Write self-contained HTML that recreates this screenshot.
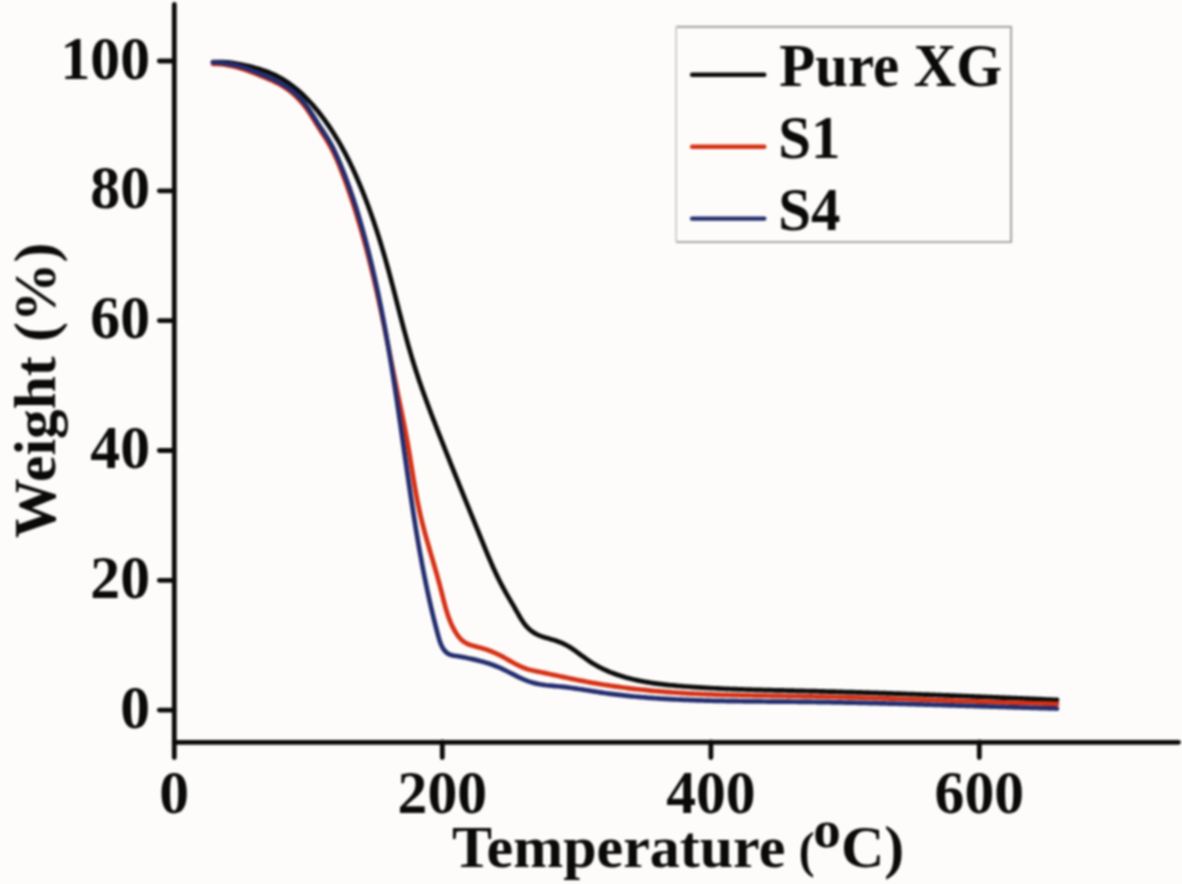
<!DOCTYPE html>
<html><head><meta charset="utf-8"><style>
html,body{margin:0;padding:0;background:#fdfcfa;width:1182px;height:884px;overflow:hidden}
svg{display:block;filter:blur(0.8px)}
text{font-family:"Liberation Serif",serif;font-weight:bold;fill:#0a0a0a}
</style></head><body>
<svg width="1182" height="884" viewBox="0 0 1182 884">
<rect width="1182" height="884" fill="#fdfcfa"/>
<!-- axes -->
<g stroke="#0a0a0a" stroke-width="4.8" stroke-linecap="round" fill="none">
<path d="M174.3 4.5 V757.6"/>
<path d="M174.3 742.3 H1178.5"/>
<path d="M159.3 61 H174 M159.3 190.8 H174 M159.3 320.6 H174 M159.3 450.5 H174 M159.3 580.3 H174 M159.3 710.1 H174"/>
<path d="M442.3 742 V757.6 M710.9 742 V757.6 M979.3 742 V757.6"/>
</g>
<!-- y tick labels -->
<g font-size="61.5" text-anchor="end">
<text transform="translate(150 78.5) scale(0.97 1)">100</text>
<text transform="translate(150 208.3) scale(0.97 1)">80</text>
<text transform="translate(150 338.1) scale(0.97 1)">60</text>
<text transform="translate(150 468.0) scale(0.97 1)">40</text>
<text transform="translate(150 597.8) scale(0.97 1)">20</text>
<text transform="translate(150 727.6) scale(0.97 1)">0</text>
</g>
<g font-size="61.5" text-anchor="middle">
<text transform="translate(174.2 813.3) scale(0.97 1)">0</text>
<text transform="translate(442.3 813.3) scale(0.97 1)">200</text>
<text transform="translate(710.9 813.3) scale(0.97 1)">400</text>
<text transform="translate(979.3 813.3) scale(0.97 1)">600</text>
</g>
<text transform="translate(452 867) scale(1.0001 1)" font-size="60">Temperature</text>
<text transform="translate(798.8 867) scale(0.95 1)" font-size="50">(</text>
<text transform="translate(813.2 847.3) scale(1.06 1)" font-size="52">o</text>
<text transform="translate(841 867) scale(1.0001 1)" font-size="60">C)</text>
<text transform="translate(55.4 538) rotate(-90) scale(0.99 1)" font-size="60">Weight (%)</text>
<!-- legend -->
<path d="M676.1 26.8 H1011.1 V242 H676.1" fill="none" stroke="#a9a9a7" stroke-width="2.2"/>
<path d="M676.1 26.8 V242" fill="none" stroke="#cfcfcd" stroke-width="2"/>
<g stroke-width="4.4" stroke-linecap="round">
<path d="M692.1 74.7 H764.3" stroke="#0a0a0a"/>
<path d="M692.1 146.7 H764.3" stroke="#d63015"/>
<path d="M692.1 218.6 H764.3" stroke="#232d6e"/>
</g>
<g font-size="62">
<text transform="translate(779.2 86.0) scale(0.95 1)">Pure XG</text>
<text transform="translate(778.3 158.4) scale(0.95 1)">S1</text>
<text transform="translate(778.3 229.6) scale(0.95 1)">S4</text>
</g>
<!-- curves -->
<g fill="none" stroke-width="4.7" stroke-linecap="round" stroke-linejoin="round">
<path id="black" stroke="#0a0a0a" d="M212.99 62.23 L215.09 62.11 L217.17 62.05 L219.23 62.04 L221.28 62.07 L223.31 62.16 L225.33 62.29 L227.35 62.45 L229.35 62.66 L231.35 62.91 L233.34 63.19 L235.33 63.50 L237.31 63.84 L239.30 64.20 L241.29 64.60 L243.28 65.01 L245.27 65.45 L247.27 65.90 L249.27 66.38 L251.28 66.87 L253.28 67.39 L255.28 67.94 L257.28 68.50 L259.26 69.10 L261.24 69.72 L263.21 70.38 L265.17 71.06 L267.11 71.78 L269.03 72.53 L270.94 73.32 L272.82 74.14 L274.68 75.00 L276.52 75.90 L278.33 76.83 L280.12 77.80 L281.89 78.81 L283.63 79.86 L285.35 80.93 L287.05 82.04 L288.73 83.18 L290.38 84.36 L292.01 85.56 L293.62 86.79 L295.21 88.05 L296.78 89.34 L298.33 90.65 L299.85 91.99 L301.36 93.36 L302.85 94.75 L304.32 96.16 L305.77 97.59 L307.20 99.05 L308.61 100.52 L310.00 102.01 L311.38 103.53 L312.74 105.05 L314.08 106.60 L315.40 108.16 L316.71 109.74 L318.00 111.33 L319.28 112.93 L320.54 114.54 L321.78 116.17 L323.01 117.80 L324.22 119.45 L325.42 121.10 L326.61 122.76 L327.77 124.44 L328.93 126.12 L330.07 127.82 L331.20 129.52 L332.31 131.23 L333.41 132.95 L334.50 134.68 L335.57 136.41 L336.63 138.16 L337.68 139.91 L338.71 141.67 L339.73 143.44 L340.74 145.21 L341.74 146.99 L342.72 148.78 L343.70 150.58 L344.66 152.38 L345.61 154.19 L346.55 156.00 L347.48 157.82 L348.40 159.65 L349.31 161.48 L350.21 163.32 L351.09 165.16 L351.97 167.01 L352.84 168.86 L353.70 170.72 L354.55 172.58 L355.39 174.45 L356.22 176.32 L357.04 178.19 L357.85 180.07 L358.66 181.95 L359.46 183.84 L360.24 185.73 L361.03 187.62 L361.80 189.51 L362.56 191.41 L363.32 193.31 L364.07 195.21 L364.82 197.11 L365.55 199.02 L366.28 200.93 L367.01 202.84 L367.72 204.75 L368.43 206.67 L369.14 208.59 L369.83 210.51 L370.52 212.43 L371.21 214.36 L371.88 216.28 L372.55 218.21 L373.22 220.14 L373.88 222.08 L374.53 224.01 L375.18 225.95 L375.82 227.89 L376.45 229.83 L377.08 231.77 L377.71 233.71 L378.33 235.66 L378.94 237.61 L379.55 239.56 L380.16 241.51 L380.75 243.46 L381.35 245.41 L381.94 247.37 L382.52 249.33 L383.10 251.28 L383.67 253.24 L384.24 255.21 L384.81 257.17 L385.37 259.13 L385.93 261.10 L386.48 263.07 L387.03 265.03 L387.58 267.00 L388.12 268.97 L388.66 270.95 L389.19 272.92 L389.72 274.89 L390.25 276.87 L390.78 278.84 L391.30 280.82 L391.82 282.79 L392.34 284.77 L392.86 286.75 L393.37 288.73 L393.89 290.71 L394.40 292.69 L394.91 294.66 L395.42 296.64 L395.93 298.62 L396.44 300.60 L396.95 302.58 L397.46 304.56 L397.97 306.54 L398.47 308.52 L398.98 310.50 L399.50 312.48 L400.01 314.46 L400.52 316.44 L401.03 318.42 L401.55 320.40 L402.07 322.38 L402.59 324.35 L403.11 326.33 L403.63 328.31 L404.16 330.28 L404.69 332.25 L405.22 334.23 L405.76 336.20 L406.30 338.17 L406.84 340.14 L407.39 342.11 L407.94 344.07 L408.49 346.04 L409.05 348.01 L409.61 349.97 L410.18 351.93 L410.76 353.89 L411.34 355.85 L411.92 357.81 L412.51 359.76 L413.11 361.71 L413.71 363.67 L414.32 365.62 L414.93 367.56 L415.55 369.51 L416.18 371.45 L416.81 373.39 L417.45 375.33 L418.10 377.27 L418.75 379.21 L419.40 381.14 L420.06 383.08 L420.73 385.01 L421.40 386.94 L422.07 388.87 L422.75 390.80 L423.44 392.72 L424.12 394.65 L424.82 396.57 L425.51 398.49 L426.21 400.41 L426.92 402.33 L427.63 404.25 L428.34 406.16 L429.05 408.08 L429.77 409.99 L430.49 411.91 L431.21 413.82 L431.94 415.73 L432.67 417.64 L433.40 419.55 L434.14 421.46 L434.87 423.36 L435.61 425.27 L436.35 427.18 L437.09 429.08 L437.83 430.98 L438.58 432.89 L439.32 434.79 L440.07 436.69 L440.82 438.60 L441.57 440.50 L442.32 442.40 L443.07 444.30 L443.82 446.20 L444.57 448.10 L445.32 450.00 L446.08 451.89 L446.83 453.79 L447.59 455.69 L448.34 457.59 L449.10 459.48 L449.85 461.38 L450.61 463.28 L451.37 465.17 L452.13 467.07 L452.89 468.96 L453.65 470.86 L454.41 472.75 L455.17 474.65 L455.93 476.54 L456.69 478.44 L457.45 480.33 L458.22 482.23 L458.98 484.12 L459.74 486.01 L460.51 487.91 L461.27 489.80 L462.04 491.69 L462.80 493.59 L463.57 495.48 L464.33 497.37 L465.10 499.27 L465.87 501.16 L466.64 503.05 L467.40 504.95 L468.17 506.84 L468.94 508.73 L469.71 510.63 L470.48 512.52 L471.25 514.42 L472.02 516.31 L472.79 518.20 L473.55 520.10 L474.33 521.99 L475.10 523.89 L475.87 525.78 L476.64 527.68 L477.41 529.57 L478.18 531.47 L478.95 533.37 L479.72 535.26 L480.49 537.16 L481.26 539.06 L482.04 540.95 L482.81 542.85 L483.58 544.75 L484.36 546.65 L485.13 548.54 L485.91 550.44 L486.69 552.33 L487.48 554.22 L488.27 556.11 L489.07 558.00 L489.87 559.88 L490.68 561.76 L491.49 563.63 L492.31 565.50 L493.14 567.37 L493.98 569.23 L494.83 571.08 L495.69 572.93 L496.55 574.78 L497.43 576.61 L498.32 578.44 L499.23 580.26 L500.14 582.08 L501.07 583.88 L502.01 585.68 L502.97 587.47 L503.94 589.25 L504.93 591.02 L505.92 592.79 L506.93 594.55 L507.95 596.31 L508.97 598.08 L510.00 599.84 L511.03 601.60 L512.07 603.38 L513.11 605.16 L514.14 606.94 L515.18 608.74 L516.21 610.55 L517.24 612.38 L518.27 614.21 L519.31 616.03 L520.38 617.83 L521.47 619.60 L522.59 621.34 L523.76 623.02 L524.98 624.65 L526.26 626.20 L527.61 627.67 L529.03 629.05 L530.54 630.33 L532.11 631.52 L533.76 632.61 L535.47 633.61 L537.24 634.53 L539.07 635.37 L540.94 636.12 L542.86 636.81 L544.82 637.43 L546.80 638.02 L548.79 638.59 L550.79 639.16 L552.78 639.73 L554.75 640.34 L556.71 640.99 L558.64 641.69 L560.54 642.43 L562.41 643.23 L564.25 644.08 L566.07 645.00 L567.84 645.97 L569.59 647.00 L571.30 648.08 L572.99 649.21 L574.67 650.38 L576.32 651.57 L577.97 652.79 L579.61 654.02 L581.24 655.26 L582.88 656.49 L584.52 657.72 L586.18 658.94 L587.85 660.13 L589.54 661.29 L591.25 662.42 L592.98 663.51 L594.74 664.56 L596.51 665.58 L598.31 666.57 L600.12 667.52 L601.95 668.44 L603.79 669.33 L605.66 670.18 L607.53 671.01 L609.42 671.80 L611.32 672.56 L613.23 673.30 L615.15 674.01 L617.08 674.69 L619.02 675.34 L620.96 675.97 L622.91 676.58 L624.87 677.16 L626.83 677.71 L628.79 678.24 L630.77 678.75 L632.74 679.24 L634.73 679.71 L636.71 680.15 L638.71 680.58 L640.70 680.99 L642.70 681.37 L644.71 681.75 L646.71 682.10 L648.72 682.44 L650.74 682.76 L652.76 683.07 L654.78 683.36 L656.80 683.64 L658.83 683.90 L660.86 684.16 L662.89 684.40 L664.92 684.63 L666.95 684.85 L668.99 685.06 L671.03 685.26 L673.06 685.45 L675.10 685.64 L677.14 685.82 L679.18 685.99 L681.22 686.16 L683.26 686.32 L685.31 686.48 L687.35 686.63 L689.39 686.78 L691.43 686.92 L693.47 687.07 L695.51 687.20 L697.55 687.33 L699.59 687.46 L701.63 687.59 L703.68 687.71 L705.72 687.83 L707.76 687.94 L709.80 688.05 L711.84 688.16 L713.88 688.26 L715.92 688.36 L717.96 688.46 L720.01 688.55 L722.05 688.64 L724.09 688.73 L726.13 688.82 L728.17 688.90 L730.21 688.98 L732.25 689.06 L734.30 689.14 L736.34 689.21 L738.38 689.28 L740.42 689.35 L742.46 689.42 L744.50 689.48 L746.55 689.55 L748.59 689.61 L750.63 689.67 L752.67 689.73 L754.71 689.78 L756.76 689.84 L758.80 689.89 L760.84 689.95 L762.88 690.00 L764.92 690.05 L766.97 690.10 L769.01 690.15 L771.05 690.20 L773.09 690.24 L775.13 690.29 L777.18 690.34 L779.22 690.38 L781.26 690.43 L783.30 690.47 L785.35 690.52 L787.39 690.56 L789.43 690.61 L791.47 690.65 L793.52 690.70 L795.56 690.74 L797.60 690.79 L799.64 690.83 L801.69 690.88 L803.73 690.93 L805.77 690.98 L807.81 691.02 L809.86 691.07 L811.90 691.12 L813.94 691.17 L815.98 691.22 L818.03 691.27 L820.07 691.33 L822.11 691.38 L824.16 691.43 L826.20 691.48 L828.24 691.54 L830.28 691.59 L832.33 691.64 L834.37 691.70 L836.41 691.75 L838.46 691.81 L840.50 691.87 L842.54 691.92 L844.59 691.98 L846.63 692.04 L848.67 692.10 L850.71 692.16 L852.76 692.21 L854.80 692.27 L856.84 692.33 L858.89 692.40 L860.93 692.46 L862.97 692.52 L865.02 692.58 L867.06 692.64 L869.10 692.70 L871.15 692.77 L873.19 692.83 L875.23 692.90 L877.28 692.96 L879.32 693.03 L881.36 693.09 L883.40 693.16 L885.45 693.22 L887.49 693.29 L889.53 693.36 L891.58 693.42 L893.62 693.49 L895.66 693.56 L897.71 693.63 L899.75 693.70 L901.79 693.77 L903.84 693.84 L905.88 693.91 L907.92 693.98 L909.97 694.05 L912.01 694.12 L914.05 694.19 L916.09 694.26 L918.14 694.33 L920.18 694.41 L922.22 694.48 L924.27 694.55 L926.31 694.63 L928.35 694.70 L930.40 694.78 L932.44 694.85 L934.48 694.93 L936.52 695.00 L938.57 695.08 L940.61 695.15 L942.65 695.23 L944.70 695.31 L946.74 695.38 L948.78 695.46 L950.82 695.54 L952.87 695.62 L954.91 695.69 L956.95 695.77 L959.00 695.85 L961.04 695.93 L963.08 696.01 L965.12 696.09 L967.17 696.17 L969.21 696.25 L971.25 696.33 L973.29 696.41 L975.34 696.49 L977.38 696.57 L979.42 696.65 L981.46 696.74 L983.50 696.82 L985.55 696.90 L987.59 696.98 L989.63 697.07 L991.67 697.15 L993.72 697.23 L995.76 697.32 L997.80 697.40 L999.84 697.48 L1001.88 697.57 L1003.93 697.65 L1005.97 697.74 L1008.01 697.82 L1010.05 697.91 L1012.09 697.99 L1014.13 698.08 L1016.18 698.17 L1018.22 698.25 L1020.26 698.34 L1022.30 698.42 L1024.34 698.51 L1026.38 698.60 L1028.43 698.68 L1030.47 698.77 L1032.51 698.86 L1034.55 698.95 L1036.59 699.03 L1038.63 699.12 L1040.67 699.21 L1042.71 699.30 L1044.75 699.39 L1046.80 699.48 L1048.84 699.56 L1050.88 699.65 L1052.92 699.74 L1054.96 699.83 L1057.00 699.92"/>
<path id="red" stroke="#d63015" d="M212.92 63.81 L215.09 63.83 L217.24 63.92 L219.38 64.06 L221.50 64.26 L223.62 64.51 L225.71 64.82 L227.80 65.17 L229.87 65.57 L231.93 66.01 L233.98 66.50 L236.02 67.02 L238.05 67.58 L240.07 68.17 L242.09 68.80 L244.09 69.46 L246.09 70.14 L248.09 70.84 L250.07 71.57 L252.06 72.32 L254.04 73.09 L256.01 73.86 L257.99 74.66 L259.96 75.46 L261.93 76.27 L263.90 77.08 L265.86 77.90 L267.83 78.74 L269.78 79.59 L271.72 80.46 L273.65 81.35 L275.56 82.28 L277.45 83.23 L279.32 84.23 L281.17 85.26 L282.98 86.34 L284.77 87.47 L286.53 88.65 L288.25 89.88 L289.94 91.16 L291.59 92.49 L293.21 93.87 L294.79 95.29 L296.33 96.75 L297.84 98.26 L299.30 99.80 L300.73 101.37 L302.12 102.98 L303.46 104.62 L304.77 106.30 L306.04 107.99 L307.27 109.72 L308.48 111.46 L309.66 113.22 L310.82 114.99 L311.96 116.78 L313.09 118.58 L314.21 120.38 L315.33 122.18 L316.45 123.99 L317.57 125.79 L318.71 127.59 L319.85 129.38 L320.99 131.16 L322.14 132.95 L323.28 134.74 L324.42 136.52 L325.55 138.32 L326.66 140.12 L327.76 141.93 L328.84 143.75 L329.89 145.58 L330.92 147.43 L331.91 149.29 L332.88 151.17 L333.81 153.07 L334.72 154.98 L335.61 156.90 L336.47 158.83 L337.31 160.78 L338.14 162.73 L338.94 164.69 L339.73 166.66 L340.51 168.63 L341.28 170.61 L342.05 172.59 L342.80 174.58 L343.55 176.56 L344.29 178.55 L345.02 180.54 L345.75 182.53 L346.47 184.52 L347.19 186.52 L347.89 188.52 L348.59 190.51 L349.29 192.52 L349.98 194.52 L350.66 196.52 L351.34 198.53 L352.01 200.54 L352.67 202.55 L353.33 204.56 L353.98 206.58 L354.63 208.59 L355.27 210.61 L355.90 212.63 L356.53 214.65 L357.16 216.68 L357.78 218.70 L358.39 220.73 L359.00 222.75 L359.60 224.78 L360.20 226.82 L360.79 228.85 L361.38 230.88 L361.96 232.92 L362.53 234.95 L363.11 236.99 L363.67 239.03 L364.24 241.07 L364.79 243.11 L365.35 245.16 L365.90 247.20 L366.44 249.25 L366.98 251.30 L367.52 253.34 L368.05 255.39 L368.57 257.45 L369.10 259.50 L369.62 261.55 L370.13 263.61 L370.64 265.66 L371.15 267.72 L371.65 269.77 L372.15 271.83 L372.65 273.89 L373.14 275.95 L373.63 278.01 L374.11 280.08 L374.60 282.14 L375.07 284.20 L375.55 286.27 L376.02 288.33 L376.49 290.40 L376.96 292.47 L377.42 294.54 L377.88 296.60 L378.34 298.67 L378.79 300.74 L379.24 302.81 L379.69 304.88 L380.14 306.96 L380.58 309.03 L381.02 311.10 L381.46 313.18 L381.90 315.25 L382.33 317.32 L382.77 319.40 L383.20 321.47 L383.62 323.55 L384.05 325.62 L384.48 327.70 L384.90 329.78 L385.32 331.85 L385.74 333.93 L386.16 336.01 L386.57 338.09 L386.99 340.16 L387.41 342.24 L387.82 344.32 L388.23 346.40 L388.65 348.47 L389.06 350.55 L389.47 352.63 L389.88 354.71 L390.29 356.78 L390.71 358.86 L391.12 360.94 L391.53 363.01 L391.94 365.09 L392.35 367.17 L392.77 369.24 L393.18 371.32 L393.60 373.39 L394.01 375.47 L394.43 377.54 L394.85 379.62 L395.27 381.69 L395.69 383.76 L396.11 385.83 L396.53 387.91 L396.96 389.98 L397.39 392.05 L397.82 394.12 L398.25 396.19 L398.68 398.25 L399.11 400.32 L399.54 402.39 L399.97 404.46 L400.41 406.53 L400.84 408.60 L401.27 410.67 L401.69 412.74 L402.12 414.81 L402.55 416.88 L402.97 418.95 L403.39 421.02 L403.80 423.09 L404.22 425.17 L404.63 427.24 L405.03 429.32 L405.43 431.40 L405.83 433.48 L406.22 435.56 L406.61 437.64 L406.99 439.73 L407.36 441.81 L407.73 443.90 L408.09 445.99 L408.45 448.09 L408.80 450.18 L409.16 452.27 L409.50 454.37 L409.85 456.47 L410.19 458.56 L410.53 460.66 L410.87 462.76 L411.21 464.86 L411.55 466.96 L411.89 469.05 L412.23 471.15 L412.57 473.25 L412.91 475.35 L413.25 477.45 L413.60 479.54 L413.95 481.64 L414.31 483.73 L414.66 485.82 L415.03 487.92 L415.39 490.01 L415.77 492.09 L416.14 494.18 L416.53 496.26 L416.92 498.34 L417.32 500.42 L417.73 502.50 L418.15 504.58 L418.57 506.65 L419.01 508.71 L419.45 510.78 L419.90 512.84 L420.37 514.90 L420.85 516.95 L421.33 519.01 L421.83 521.05 L422.34 523.10 L422.86 525.14 L423.38 527.18 L423.92 529.22 L424.46 531.25 L425.01 533.29 L425.56 535.32 L426.12 537.35 L426.69 539.38 L427.26 541.41 L427.84 543.44 L428.42 545.46 L429.00 547.49 L429.59 549.52 L430.18 551.55 L430.77 553.57 L431.36 555.60 L431.96 557.63 L432.55 559.66 L433.14 561.70 L433.73 563.73 L434.33 565.76 L434.92 567.80 L435.50 569.84 L436.09 571.88 L436.67 573.93 L437.24 575.98 L437.82 578.03 L438.38 580.08 L438.94 582.14 L439.50 584.20 L440.05 586.27 L440.59 588.34 L441.12 590.42 L441.65 592.50 L442.17 594.58 L442.70 596.66 L443.22 598.74 L443.75 600.82 L444.29 602.90 L444.84 604.97 L445.41 607.03 L445.99 609.08 L446.60 611.12 L447.23 613.15 L447.89 615.16 L448.58 617.16 L449.31 619.14 L450.08 621.10 L450.88 623.03 L451.74 624.95 L452.64 626.84 L453.59 628.70 L454.59 630.53 L455.66 632.33 L456.78 634.10 L457.98 635.81 L459.26 637.45 L460.63 638.99 L462.10 640.40 L463.68 641.68 L465.39 642.78 L467.21 643.71 L469.13 644.51 L471.13 645.19 L473.18 645.80 L475.27 646.37 L477.36 646.91 L479.44 647.48 L481.50 648.07 L483.55 648.69 L485.57 649.34 L487.58 650.03 L489.57 650.75 L491.54 651.51 L493.49 652.31 L495.43 653.15 L497.35 654.03 L499.25 654.96 L501.13 655.94 L503.01 656.94 L504.87 657.98 L506.73 659.03 L508.59 660.09 L510.44 661.15 L512.30 662.20 L514.17 663.23 L516.04 664.23 L517.93 665.19 L519.83 666.11 L521.76 666.98 L523.70 667.78 L525.67 668.51 L527.66 669.15 L529.68 669.73 L531.72 670.26 L533.78 670.73 L535.84 671.18 L537.92 671.61 L539.99 672.04 L542.07 672.47 L544.14 672.91 L546.21 673.35 L548.29 673.79 L550.36 674.23 L552.43 674.68 L554.50 675.13 L556.57 675.57 L558.65 676.02 L560.72 676.47 L562.79 676.91 L564.86 677.36 L566.94 677.80 L569.01 678.24 L571.09 678.67 L573.16 679.10 L575.24 679.53 L577.31 679.95 L579.39 680.36 L581.47 680.77 L583.55 681.17 L585.63 681.56 L587.71 681.95 L589.80 682.33 L591.88 682.70 L593.97 683.07 L596.06 683.43 L598.14 683.78 L600.23 684.12 L602.32 684.46 L604.41 684.80 L606.51 685.12 L608.60 685.44 L610.69 685.76 L612.79 686.06 L614.88 686.37 L616.98 686.66 L619.07 686.95 L621.17 687.23 L623.27 687.51 L625.37 687.78 L627.47 688.05 L629.57 688.30 L631.67 688.56 L633.78 688.81 L635.88 689.05 L637.98 689.28 L640.09 689.51 L642.19 689.74 L644.30 689.96 L646.40 690.17 L648.51 690.38 L650.62 690.59 L652.73 690.79 L654.84 690.98 L656.94 691.17 L659.05 691.35 L661.16 691.53 L663.27 691.70 L665.38 691.87 L667.50 692.04 L669.61 692.19 L671.72 692.35 L673.83 692.50 L675.94 692.64 L678.06 692.78 L680.17 692.92 L682.28 693.05 L684.40 693.18 L686.51 693.30 L688.62 693.42 L690.74 693.53 L692.85 693.64 L694.97 693.75 L697.08 693.85 L699.20 693.95 L701.31 694.04 L703.43 694.14 L705.54 694.22 L707.66 694.31 L709.77 694.39 L711.89 694.47 L714.01 694.54 L716.12 694.62 L718.24 694.69 L720.36 694.75 L722.47 694.82 L724.59 694.88 L726.71 694.94 L728.82 695.00 L730.94 695.05 L733.06 695.10 L735.18 695.15 L737.29 695.20 L739.41 695.25 L741.53 695.29 L743.65 695.34 L745.77 695.38 L747.88 695.42 L750.00 695.46 L752.12 695.50 L754.24 695.53 L756.36 695.57 L758.48 695.60 L760.59 695.64 L762.71 695.67 L764.83 695.70 L766.95 695.73 L769.07 695.76 L771.19 695.80 L773.31 695.83 L775.42 695.86 L777.54 695.89 L779.66 695.92 L781.78 695.95 L783.90 695.98 L786.02 696.01 L788.14 696.04 L790.25 696.07 L792.37 696.11 L794.49 696.14 L796.61 696.17 L798.73 696.21 L800.85 696.24 L802.96 696.28 L805.08 696.32 L807.20 696.36 L809.32 696.40 L811.44 696.44 L813.56 696.48 L815.67 696.53 L817.79 696.57 L819.91 696.61 L822.03 696.66 L824.14 696.71 L826.26 696.76 L828.38 696.80 L830.50 696.85 L832.61 696.90 L834.73 696.96 L836.85 697.01 L838.97 697.06 L841.08 697.11 L843.20 697.17 L845.32 697.22 L847.44 697.28 L849.55 697.34 L851.67 697.39 L853.79 697.45 L855.91 697.51 L858.02 697.57 L860.14 697.63 L862.26 697.69 L864.37 697.75 L866.49 697.81 L868.61 697.88 L870.72 697.94 L872.84 698.00 L874.96 698.07 L877.07 698.13 L879.19 698.20 L881.31 698.26 L883.43 698.33 L885.54 698.39 L887.66 698.46 L889.78 698.53 L891.89 698.60 L894.01 698.66 L896.13 698.73 L898.24 698.80 L900.36 698.87 L902.48 698.94 L904.59 699.01 L906.71 699.08 L908.82 699.15 L910.94 699.22 L913.06 699.29 L915.17 699.36 L917.29 699.44 L919.41 699.51 L921.52 699.58 L923.64 699.65 L925.76 699.72 L927.87 699.80 L929.99 699.87 L932.11 699.94 L934.22 700.01 L936.34 700.09 L938.46 700.16 L940.57 700.23 L942.69 700.30 L944.80 700.38 L946.92 700.45 L949.04 700.52 L951.15 700.60 L953.27 700.67 L955.39 700.74 L957.50 700.81 L959.62 700.89 L961.74 700.96 L963.85 701.03 L965.97 701.10 L968.09 701.18 L970.20 701.25 L972.32 701.32 L974.44 701.39 L976.55 701.46 L978.67 701.53 L980.79 701.61 L982.90 701.68 L985.02 701.75 L987.14 701.82 L989.25 701.89 L991.37 701.96 L993.49 702.02 L995.60 702.09 L997.72 702.16 L999.84 702.23 L1001.95 702.30 L1004.07 702.36 L1006.19 702.43 L1008.31 702.50 L1010.42 702.56 L1012.54 702.63 L1014.66 702.69 L1016.77 702.76 L1018.89 702.82 L1021.01 702.88 L1023.12 702.95 L1025.24 703.01 L1027.36 703.07 L1029.48 703.13 L1031.59 703.19 L1033.71 703.25 L1035.83 703.31 L1037.95 703.37 L1040.06 703.43 L1042.18 703.48 L1044.30 703.54 L1046.42 703.60 L1048.53 703.65 L1050.65 703.71 L1052.77 703.76 L1054.89 703.81 L1057.01 703.86"/>
<path id="blue" stroke="#232d6e" d="M213.00 62.21 L215.15 62.34 L217.31 62.50 L219.47 62.69 L221.62 62.91 L223.76 63.18 L225.90 63.47 L228.04 63.81 L230.17 64.18 L232.28 64.59 L234.39 65.04 L236.49 65.53 L238.58 66.06 L240.66 66.62 L242.72 67.23 L244.77 67.88 L246.81 68.57 L248.83 69.30 L250.85 70.06 L252.85 70.84 L254.85 71.64 L256.85 72.46 L258.84 73.28 L260.84 74.11 L262.84 74.94 L264.84 75.77 L266.83 76.61 L268.82 77.46 L270.79 78.32 L272.76 79.21 L274.71 80.12 L276.65 81.06 L278.57 82.03 L280.46 83.04 L282.33 84.09 L284.18 85.19 L285.99 86.33 L287.77 87.53 L289.52 88.78 L291.23 90.09 L292.91 91.45 L294.55 92.85 L296.15 94.31 L297.72 95.81 L299.24 97.35 L300.73 98.93 L302.17 100.54 L303.58 102.20 L304.94 103.88 L306.26 105.60 L307.54 107.34 L308.78 109.10 L309.99 110.89 L311.18 112.69 L312.34 114.51 L313.49 116.33 L314.63 118.16 L315.77 119.99 L316.91 121.82 L318.06 123.64 L319.22 125.46 L320.39 127.26 L321.58 129.05 L322.76 130.84 L323.95 132.63 L325.12 134.42 L326.29 136.23 L327.43 138.04 L328.55 139.88 L329.63 141.73 L330.69 143.60 L331.71 145.49 L332.71 147.40 L333.68 149.33 L334.63 151.27 L335.56 153.22 L336.47 155.18 L337.36 157.16 L338.23 159.14 L339.08 161.13 L339.93 163.13 L340.76 165.13 L341.58 167.13 L342.40 169.14 L343.20 171.15 L343.99 173.16 L344.78 175.18 L345.55 177.20 L346.32 179.22 L347.07 181.25 L347.82 183.28 L348.56 185.31 L349.29 187.34 L350.01 189.38 L350.73 191.42 L351.43 193.46 L352.13 195.51 L352.82 197.56 L353.50 199.61 L354.17 201.66 L354.84 203.71 L355.50 205.77 L356.15 207.83 L356.80 209.89 L357.43 211.95 L358.07 214.02 L358.69 216.08 L359.31 218.15 L359.92 220.22 L360.52 222.29 L361.12 224.37 L361.72 226.44 L362.30 228.52 L362.88 230.60 L363.46 232.68 L364.03 234.76 L364.60 236.84 L365.16 238.92 L365.71 241.01 L366.26 243.09 L366.81 245.18 L367.35 247.27 L367.88 249.36 L368.41 251.45 L368.94 253.54 L369.46 255.63 L369.98 257.73 L370.49 259.82 L371.00 261.92 L371.50 264.01 L372.00 266.11 L372.50 268.21 L372.99 270.31 L373.47 272.41 L373.96 274.51 L374.43 276.61 L374.91 278.71 L375.38 280.82 L375.84 282.92 L376.30 285.03 L376.76 287.14 L377.22 289.24 L377.67 291.35 L378.11 293.46 L378.56 295.57 L379.00 297.68 L379.43 299.79 L379.86 301.91 L380.29 304.02 L380.72 306.13 L381.14 308.25 L381.56 310.36 L381.97 312.48 L382.38 314.60 L382.79 316.72 L383.20 318.83 L383.60 320.95 L384.00 323.07 L384.40 325.19 L384.79 327.31 L385.18 329.44 L385.57 331.56 L385.95 333.68 L386.33 335.81 L386.71 337.93 L387.09 340.05 L387.46 342.18 L387.83 344.31 L388.20 346.43 L388.57 348.56 L388.93 350.69 L389.30 352.82 L389.65 354.94 L390.01 357.07 L390.37 359.20 L390.72 361.33 L391.07 363.46 L391.42 365.59 L391.76 367.73 L392.11 369.86 L392.45 371.99 L392.79 374.12 L393.13 376.26 L393.47 378.39 L393.80 380.52 L394.14 382.66 L394.47 384.79 L394.80 386.93 L395.13 389.06 L395.45 391.20 L395.78 393.33 L396.10 395.47 L396.43 397.60 L396.75 399.74 L397.07 401.88 L397.39 404.01 L397.71 406.15 L398.02 408.29 L398.34 410.43 L398.66 412.56 L398.97 414.70 L399.28 416.84 L399.59 418.98 L399.91 421.12 L400.22 423.25 L400.53 425.39 L400.84 427.53 L401.15 429.67 L401.45 431.81 L401.76 433.95 L402.07 436.09 L402.38 438.23 L402.68 440.36 L402.99 442.50 L403.29 444.64 L403.60 446.78 L403.91 448.92 L404.21 451.06 L404.52 453.20 L404.82 455.34 L405.13 457.48 L405.43 459.62 L405.74 461.75 L406.05 463.89 L406.35 466.03 L406.66 468.17 L406.97 470.31 L407.28 472.44 L407.59 474.58 L407.90 476.72 L408.21 478.86 L408.52 480.99 L408.83 483.13 L409.15 485.27 L409.46 487.40 L409.78 489.54 L410.10 491.68 L410.41 493.81 L410.73 495.95 L411.05 498.08 L411.38 500.22 L411.70 502.35 L412.03 504.48 L412.35 506.62 L412.68 508.75 L413.01 510.88 L413.35 513.01 L413.68 515.15 L414.02 517.28 L414.36 519.41 L414.70 521.54 L415.04 523.67 L415.39 525.80 L415.73 527.92 L416.08 530.05 L416.43 532.18 L416.79 534.31 L417.15 536.43 L417.51 538.56 L417.87 540.68 L418.24 542.81 L418.60 544.93 L418.97 547.06 L419.35 549.18 L419.73 551.30 L420.11 553.42 L420.49 555.54 L420.88 557.66 L421.27 559.78 L421.66 561.90 L422.06 564.02 L422.46 566.13 L422.86 568.25 L423.27 570.36 L423.68 572.48 L424.09 574.59 L424.51 576.70 L424.94 578.82 L425.36 580.93 L425.79 583.04 L426.23 585.15 L426.67 587.25 L427.11 589.36 L427.56 591.47 L428.01 593.57 L428.46 595.68 L428.92 597.78 L429.39 599.88 L429.86 601.98 L430.33 604.08 L430.81 606.18 L431.30 608.28 L431.78 610.38 L432.28 612.48 L432.78 614.58 L433.29 616.68 L433.80 618.78 L434.32 620.88 L434.85 622.99 L435.38 625.10 L435.93 627.21 L436.48 629.33 L437.04 631.46 L437.61 633.59 L438.19 635.73 L438.79 637.87 L439.43 640.00 L440.12 642.08 L440.89 644.12 L441.76 646.07 L442.76 647.94 L443.90 649.68 L445.21 651.30 L446.70 652.74 L448.39 653.95 L450.28 654.81 L452.32 655.35 L454.46 655.70 L456.61 656.02 L458.75 656.36 L460.88 656.73 L463.00 657.13 L465.11 657.55 L467.22 657.98 L469.32 658.43 L471.42 658.90 L473.53 659.38 L475.63 659.88 L477.73 660.39 L479.83 660.93 L481.92 661.49 L484.01 662.07 L486.09 662.68 L488.15 663.33 L490.21 664.00 L492.25 664.71 L494.27 665.46 L496.28 666.24 L498.27 667.07 L500.25 667.94 L502.20 668.85 L504.14 669.79 L506.07 670.75 L507.99 671.73 L509.91 672.72 L511.82 673.71 L513.74 674.70 L515.66 675.68 L517.59 676.64 L519.53 677.57 L521.48 678.47 L523.46 679.34 L525.45 680.15 L527.46 680.92 L529.50 681.62 L531.56 682.27 L533.64 682.87 L535.73 683.40 L537.83 683.88 L539.95 684.30 L542.07 684.66 L544.21 684.97 L546.35 685.25 L548.49 685.48 L550.64 685.70 L552.79 685.90 L554.95 686.08 L557.10 686.27 L559.26 686.47 L561.41 686.68 L563.56 686.91 L565.70 687.16 L567.85 687.43 L569.99 687.71 L572.13 688.00 L574.26 688.31 L576.40 688.62 L578.54 688.95 L580.67 689.28 L582.80 689.62 L584.94 689.96 L587.07 690.30 L589.20 690.65 L591.33 690.99 L593.47 691.34 L595.60 691.68 L597.73 692.01 L599.86 692.34 L602.00 692.66 L604.14 692.97 L606.27 693.28 L608.41 693.57 L610.55 693.86 L612.69 694.14 L614.83 694.41 L616.97 694.67 L619.11 694.93 L621.26 695.18 L623.40 695.42 L625.55 695.65 L627.69 695.88 L629.84 696.10 L631.99 696.31 L634.13 696.52 L636.28 696.72 L638.43 696.91 L640.58 697.10 L642.73 697.28 L644.88 697.46 L647.03 697.63 L649.19 697.79 L651.34 697.95 L653.49 698.11 L655.64 698.26 L657.80 698.40 L659.95 698.54 L662.10 698.68 L664.26 698.81 L666.41 698.93 L668.57 699.05 L670.72 699.17 L672.88 699.29 L675.03 699.40 L677.19 699.50 L679.34 699.60 L681.50 699.70 L683.65 699.79 L685.81 699.89 L687.97 699.97 L690.12 700.06 L692.28 700.14 L694.44 700.21 L696.59 700.29 L698.75 700.36 L700.91 700.43 L703.06 700.49 L705.22 700.55 L707.38 700.61 L709.54 700.67 L711.69 700.73 L713.85 700.78 L716.01 700.83 L718.17 700.87 L720.32 700.92 L722.48 700.96 L724.64 701.00 L726.80 701.04 L728.96 701.08 L731.12 701.11 L733.28 701.15 L735.43 701.18 L737.59 701.21 L739.75 701.24 L741.91 701.27 L744.07 701.29 L746.23 701.32 L748.39 701.34 L750.55 701.37 L752.71 701.39 L754.87 701.41 L757.03 701.43 L759.18 701.45 L761.34 701.47 L763.50 701.49 L765.66 701.51 L767.82 701.53 L769.98 701.54 L772.14 701.56 L774.30 701.58 L776.46 701.60 L778.62 701.61 L780.78 701.63 L782.94 701.65 L785.10 701.67 L787.26 701.69 L789.42 701.71 L791.58 701.73 L793.73 701.75 L795.89 701.77 L798.05 701.79 L800.21 701.82 L802.37 701.84 L804.53 701.87 L806.69 701.90 L808.85 701.92 L811.01 701.95 L813.17 701.98 L815.33 702.01 L817.48 702.04 L819.64 702.08 L821.80 702.11 L823.96 702.14 L826.12 702.18 L828.28 702.22 L830.44 702.25 L832.59 702.29 L834.75 702.33 L836.91 702.37 L839.07 702.41 L841.23 702.45 L843.39 702.49 L845.54 702.54 L847.70 702.58 L849.86 702.63 L852.02 702.67 L854.18 702.72 L856.34 702.76 L858.49 702.81 L860.65 702.86 L862.81 702.91 L864.97 702.96 L867.13 703.01 L869.28 703.06 L871.44 703.11 L873.60 703.16 L875.76 703.22 L877.91 703.27 L880.07 703.32 L882.23 703.38 L884.39 703.43 L886.55 703.49 L888.70 703.54 L890.86 703.60 L893.02 703.66 L895.18 703.72 L897.33 703.77 L899.49 703.83 L901.65 703.89 L903.81 703.95 L905.96 704.01 L908.12 704.07 L910.28 704.13 L912.44 704.19 L914.59 704.26 L916.75 704.32 L918.91 704.38 L921.07 704.44 L923.22 704.51 L925.38 704.57 L927.54 704.63 L929.70 704.70 L931.85 704.76 L934.01 704.83 L936.17 704.89 L938.33 704.96 L940.48 705.02 L942.64 705.09 L944.80 705.15 L946.96 705.22 L949.11 705.28 L951.27 705.35 L953.43 705.42 L955.59 705.48 L957.74 705.55 L959.90 705.62 L962.06 705.68 L964.22 705.75 L966.37 705.82 L968.53 705.88 L970.69 705.95 L972.85 706.02 L975.00 706.09 L977.16 706.15 L979.32 706.22 L981.48 706.29 L983.63 706.35 L985.79 706.42 L987.95 706.49 L990.11 706.56 L992.26 706.62 L994.42 706.69 L996.58 706.76 L998.74 706.82 L1000.90 706.89 L1003.05 706.96 L1005.21 707.02 L1007.37 707.09 L1009.53 707.15 L1011.68 707.22 L1013.84 707.29 L1016.00 707.35 L1018.16 707.42 L1020.32 707.48 L1022.47 707.55 L1024.63 707.61 L1026.79 707.67 L1028.95 707.74 L1031.11 707.80 L1033.26 707.86 L1035.42 707.93 L1037.58 707.99 L1039.74 708.05 L1041.90 708.11 L1044.05 708.17 L1046.21 708.23 L1048.37 708.30 L1050.53 708.36 L1052.69 708.41 L1054.85 708.47 L1057.00 708.53"/>
</g>
</svg>
</body></html>
